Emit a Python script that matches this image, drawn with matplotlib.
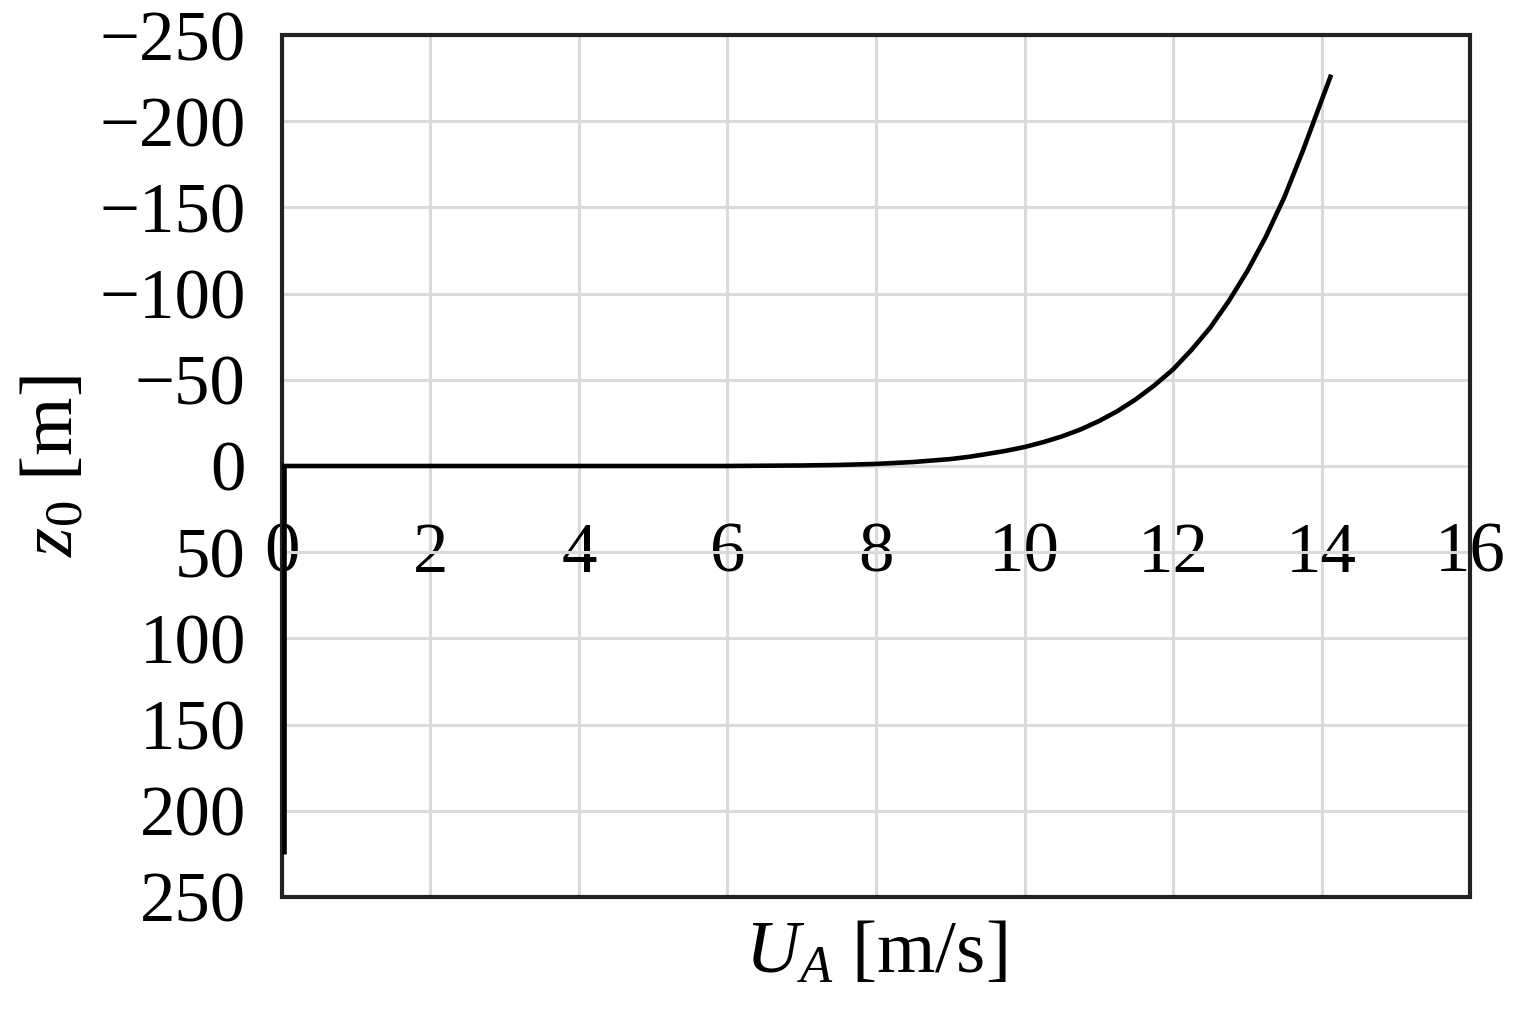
import numpy as np
import matplotlib
matplotlib.use('agg')
import matplotlib.pyplot as plt
from matplotlib.patches import Rectangle

# upper branch of z0 vs U_A (negative z0 is up, axis is inverted)
ua = [0, 6, 7, 7.5, 8, 8.5, 9, 9.25, 9.5, 9.75, 10, 10.25, 10.5, 10.75, 11,
      11.25, 11.5, 11.75, 12, 12.25, 12.5, 12.75, 13, 13.25, 13.5, 13.75, 14, 14.13]
z0 = [0, 0, -0.3, -0.6, -1.2, -2.3, -4, -5.3, -7, -8.8, -11, -13.8, -17.1, -21.1, -26,
      -31.8, -38.7, -46.8, -56, -67.4, -80.2, -95.6, -113, -133, -156, -183, -212, -227]
# lower branch, stays at U_A = 0
ua_low = [0.03, 0.03]
z0_low = [0, 225]

xticks = [0, 2, 4, 6, 8, 10, 12, 14, 16]
yticks = [-250, -200, -150, -100, -50, 0, 50, 100, 150, 200, 250]

plt.rcParams['font.family'] = 'Liberation Serif'
plt.rcParams['mathtext.fontset'] = 'custom'
plt.rcParams['mathtext.rm'] = 'Liberation Serif'
plt.rcParams['mathtext.it'] = 'Liberation Serif:italic'

fig = plt.figure(figsize=(15.24, 10.15), dpi=100)
ax = fig.add_axes([0.185, 0.1163, 0.7796, 0.8492])

ax.plot(ua, z0, color='black', lw=3.3, solid_capstyle='butt',
        solid_joinstyle='round', zorder=5)
ax.plot(ua_low, z0_low, color='black', lw=3.3, solid_capstyle='butt', zorder=5)

ax.set_xlim(0, 16)
ax.set_ylim(250, -250)
ax.set_xticks(xticks)
ax.set_yticks(yticks)
ax.grid(True, color='#dadada', lw=2.2)
ax.set_axisbelow(True)

# x tick labels sit on the z0 = 0 line
ax.spines['bottom'].set_position(('data', 0))
for s in ax.spines.values():
    s.set_visible(False)
ax.add_patch(Rectangle((0, 0), 1, 1, transform=ax.transAxes, fill=False,
                       lw=3, edgecolor='#222222', clip_on=False, zorder=4))

ax.tick_params(axis='both', length=0, labelsize=51)
ax.tick_params(axis='x', pad=40)
ax.tick_params(axis='y', pad=26)

ax.set_xlabel(r'$U_{A}$ [m/s]', fontsize=54)
ax.xaxis.set_label_coords(0.5, -0.028)
ax.set_ylabel(r'$z_{0}$ [m]', fontsize=54)
ax.yaxis.set_label_coords(-0.163, 0.5)

fig.savefig('out.png', dpi=100, facecolor='white')
